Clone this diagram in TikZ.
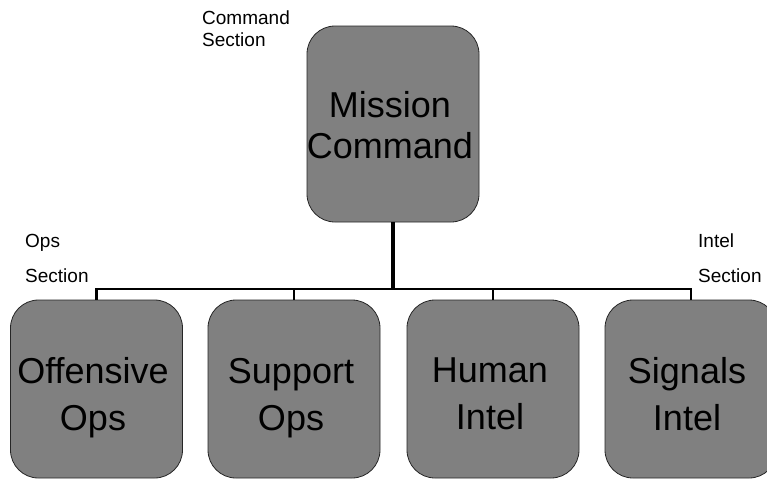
\documentclass[tikz,border=0pt]{standalone}
\usepackage{fontspec}
\setmainfont{Liberation Sans}
\tikzset{
  orgbox/.style={draw=black!85, line width=0.8pt, fill=gray50, rounded corners=28pt, inner sep=0pt},
  topbox/.style={orgbox, minimum width=172pt, minimum height=196pt},
  subbox/.style={orgbox, minimum width=172pt, minimum height=178pt},
  toptxt/.style={font=\fontsize{36}{41}\selectfont, align=center, text depth=0pt, inner sep=0pt},
  subtxt/.style={font=\fontsize{36}{47}\selectfont, align=center, text depth=0pt, inner sep=0pt},
  cmdlbl/.style={font=\fontsize{19}{22}\selectfont, align=left, inner sep=0pt, anchor=north west},
  seclbl/.style={font=\fontsize{19}{35}\selectfont, align=left, inner sep=0pt, anchor=north west},
  trunk/.style={line width=3.5pt, black},
  busline/.style={line width=2.4pt, black}
}
\definecolor{gray50}{HTML}{808080}
\begin{document}
\begin{tikzpicture}[x=1pt, y=-1pt]
\useasboundingbox (0,0) rectangle (767,480);
% boxes
\node[topbox] (mc) at (393,124) {};
\node[subbox] (off) at (96.5,389) {};
\node[subbox] (sup) at (294,389) {};
\node[subbox] (hum) at (493,389) {};
\node[subbox] (sig) at (691,389) {};
% box texts
\node[toptxt] (mct) at (390,124.5) {Mission\\Command};
\node[subtxt] (offt) at (93,394) {Offensive\\Ops};
\node[subtxt] (supt) at (291,394) {Support\\Ops};
\node[subtxt] (humt) at (490,394) {Human\\Intel};
\node[subtxt] (sigt) at (687,394) {Signals\\Intel};
% section labels
\node[cmdlbl] (cmdl) at (202,11) {Command\\Section};
\node[seclbl] (opsl) at (25,234) {Ops\\Section};
\node[seclbl] (intl) at (698,234) {Intel\\Section};
% connectors
\coordinate (bus) at (393,289);
\draw[trunk] (mc.south) -- (bus);
\draw[busline] (off.north) -- (off.north |- bus) -- (sig.north |- bus) -- (sig.north);
\draw[busline] (sup.north) -- (sup.north |- bus);
\draw[busline] (hum.north) -- (hum.north |- bus);
\end{tikzpicture}
\end{document}
